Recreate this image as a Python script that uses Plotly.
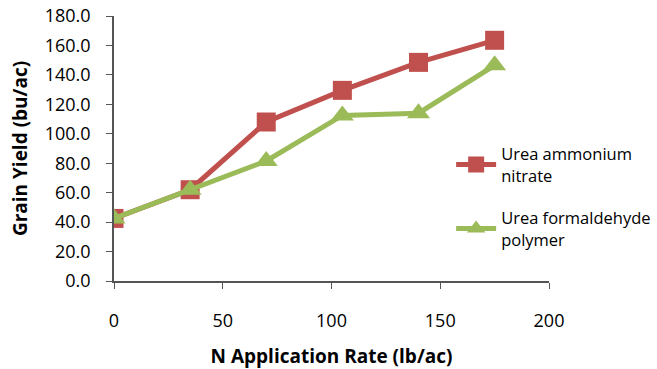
import plotly.graph_objects as go

rates = [0, 35, 70, 105, 140, 175]
uan = [42.5, 62.0, 108.0, 129.5, 148.5, 163.5]
ufp = [42.5, 62.0, 81.5, 112.5, 114.0, 146.5]
yticks = [0, 20, 40, 60, 80, 100, 120, 140, 160, 180]
ytext = [f"{v:.1f}" for v in yticks]
xticks = [0, 50, 100, 150, 200]

FONT = "Open Sans"
fig = go.Figure()
fig.add_trace(go.Scatter(x=rates, y=uan, mode="lines+markers",
                         name="Urea ammonium<br>nitrate", legendgroup="a",
                         line=dict(color="#C0504D", width=5),
                         marker=dict(symbol="square", size=19, color="#C0504D")))
fig.add_trace(go.Scatter(x=rates, y=ufp, mode="lines+markers",
                         name="Urea formaldehyde<br>polymer", legendgroup="b",
                         line=dict(color="#9BBB59", width=5),
                         marker=dict(symbol="triangle-up", size=20, color="#9BBB59")))

fig.update_layout(
    width=657, height=369,
    margin=dict(l=114, r=108, t=16, b=88, autoexpand=False),
    paper_bgcolor="white", plot_bgcolor="white",
    font=dict(family=FONT, size=18, color="#000"),
    showlegend=True,
    legend=dict(x=0.775, y=0.545, xanchor="left", yanchor="top",
                font=dict(size=16.5), tracegroupgap=18, itemwidth=40,
                traceorder="grouped", bgcolor="rgba(0,0,0,0)"),
    xaxis=dict(range=[0, 200], tickvals=xticks, showgrid=False, zeroline=False,
               showline=True, linecolor="#555", linewidth=1.5,
               ticks="outside", ticklen=6, tickcolor="#555",
               ticklabelstandoff=17, automargin=False,
               title=dict(text="<b>N Application Rate (lb/ac)</b>", font=dict(size=19), standoff=18)),
    yaxis=dict(range=[0, 180], tickvals=yticks, ticktext=ytext, showgrid=False, zeroline=False,
               showline=True, linecolor="#555", linewidth=1.5,
               ticks="outside", ticklen=6, tickcolor="#555",
               ticklabelstandoff=12, automargin=False,
               title=dict(text="<b>Grain Yield (bu/ac)</b>", font=dict(size=19), standoff=12)),
)
fig.write_html("out.html")
